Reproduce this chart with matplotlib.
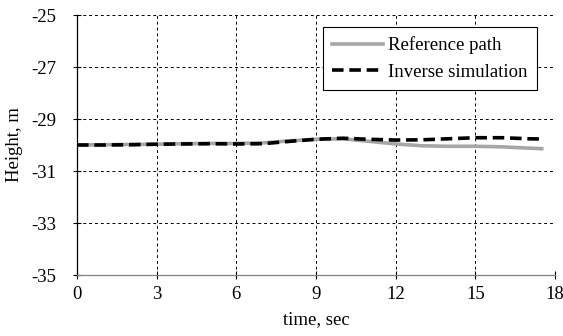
import matplotlib
matplotlib.use("Agg")
import matplotlib.pyplot as plt

# Time samples (s) and heights (m)
time_s = [0, 1, 2, 3, 4, 5, 6, 7, 8, 9, 10, 11, 12, 13, 14, 15, 16, 17, 17.5]
reference_path = [-30.0, -29.99, -29.98, -29.97, -29.95, -29.94, -29.94, -29.92, -29.84,
                  -29.78, -29.76, -29.86, -29.96, -30.03, -30.05, -30.05, -30.07, -30.12, -30.14]
inverse_sim = [-30.0, -30.0, -29.99, -29.97, -29.96, -29.95, -29.96, -29.95, -29.86,
               -29.78, -29.74, -29.78, -29.81, -29.8, -29.76, -29.72, -29.72, -29.76, -29.77]

x_ticks = [0, 3, 6, 9, 12, 15, 18]
y_ticks = [-35, -33, -31, -29, -27, -25]

plt.rcParams["font.family"] = ["Liberation Serif", "DejaVu Serif"]
plt.rcParams["font.size"] = 13.5
plt.rcParams["axes.unicode_minus"] = False

fig = plt.figure(figsize=(5.63, 3.36), dpi=100)
ax = fig.add_axes([77 / 563, 1 - 275 / 336, (555 - 77) / 563, (275 - 15) / 336])

ax.plot(time_s, reference_path, color="#a6a6a6", lw=2.6, label="Reference path", zorder=3)
ax.plot(time_s, inverse_sim, color="black", lw=2.6, ls=(0, (3.2, 1.6)),
        label="Inverse simulation", zorder=4)

ax.set_xlim(0, 18)
ax.set_ylim(-35, -25)
ax.set_xticks(x_ticks)
ax.set_yticks(y_ticks)
ax.grid(True, color="black", ls=(0, (3, 3)), lw=0.7)
ax.set_axisbelow(True)

for side in ("top", "right"):
    ax.spines[side].set_visible(False)
ax.spines["left"].set_color("black")
ax.spines["left"].set_linewidth(0.9)
ax.spines["bottom"].set_color("#808080")
ax.spines["bottom"].set_linewidth(0.9)
ax.tick_params(direction="inout", length=6, width=0.8, color="black")
ax.tick_params(axis="x", pad=5)
ax.tick_params(axis="y", pad=12)

ax.set_xlabel("time, sec", labelpad=6)
ax.set_ylabel("Height, m", labelpad=6)

leg = ax.legend(loc="upper right", bbox_to_anchor=(537 / 563, 1 - 27 / 336),
                bbox_transform=fig.transFigure, fancybox=False, framealpha=1,
                edgecolor="black", handlelength=2.7, borderpad=0.5,
                labelspacing=0.5, handletextpad=0.3, borderaxespad=0)
leg.get_frame().set_linewidth(0.8)

fig.savefig("out.png", dpi=100)
